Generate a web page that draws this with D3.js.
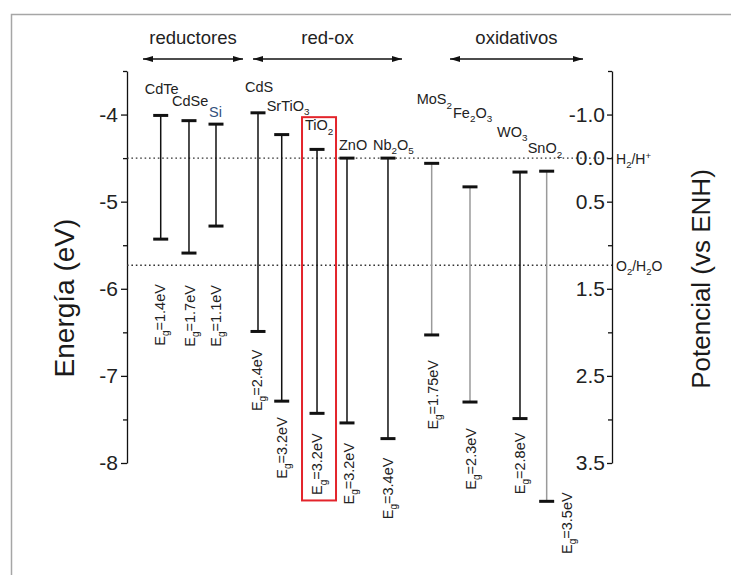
<!DOCTYPE html>
<html><head><meta charset="utf-8">
<script src="https://cdn.jsdelivr.net/npm/d3@7"></script>
<style>body{margin:0;background:#fff} text{font-family:"Liberation Sans",Arial,sans-serif}</style>
</head><body><svg id="c" width="731" height="575"></svg>
<script>
// ---------- data ----------
const materials = ["CdTe","CdSe","Si","CdS","SrTiO3","TiO2","ZnO","Nb2O5","MoS2","Fe2O3","WO3","SnO2"];
const conductionBand = [-4.01,-4.07,-4.11,-3.98,-4.23,-4.40,-4.50,-4.50,-4.56,-4.83,-4.66,-4.65];
const valenceBand    = [-5.43,-5.59,-5.28,-6.49,-7.29,-7.43,-7.54,-7.72,-6.53,-7.30,-7.49,-8.44];
const bandGapLabels  = ["1.4","1.7","1.1","2.4","3.2","3.2","3.2","3.4","1.75","2.3","2.8","3.5"];
const groups = ["reductores","red-ox","oxidativos"];
const leftTicks = [-4,-5,-6,-7,-8];
const leftTickLabels = ["-4","-5","-6","-7","-8"];
const leftMinorTicks = [-3.5,-4.5,-5.5,-6.5,-7.5];
const rightTickValues = [-4,-4.5,-5,-6,-7,-8];
const rightTickLabels = ["-1.0","0.0","0.5","1.5","2.5","3.5"];
const rightMinorTicks = [-3.5,-5.5,-6.5,-7.5];
const redoxLevels = [-4.5,-5.73];
const redoxLabels = ["H2/H+","O2/H2O"];
const highlighted = "TiO2";

// ---------- layout (positions / styles) ----------
const barSlot = [6.95,12.78,18.35,27.01,31.9,39.18,45.36,53.81,62.82,70.72,81.03,86.53];
const grayStem = [false,false,false,false,false,false,false,false,true,true,false,true];
const nameDx = [-16,-17,-7,-13,-15,-12,-8,-15,-15,-17,-23,-19];
const nameDy = [-21,-15,-7,-21,-24,-19,-8,-8,-59,-69,-35,-18];
const egGap = [45,32,59,18,16,20,20,19,25,26,14,-9];
const egDx  = [-1,1,0,-1,0,0,2,0,1,1,0,20];
const groupStart = [3.3,25.98,66.6];
const groupEnd   = [23.92,56.7,94.02];
const boxTop = -4.03, boxBottom = -8.43, boxLeft = -15, boxWidth = 34;

const svg = d3.select("#c");
const x = d3.scaleLinear().domain([0,100]).range([127,612]);
const y = d3.scaleLinear().domain([-3.5,-8]).range([71,463]);

// frame
svg.append("rect").attr("x",11.5).attr("y",14.5).attr("width",800).attr("height",700)
  .attr("fill","none").attr("stroke","#a6a6a6").attr("stroke-width",1.5);

// helper: chemical formula with subscripts
function formula(sel, str, fs){
  const parts = str.match(/(\d+|\+|[^\d+]+)/g);
  let shift = 0;
  parts.forEach(p=>{
    const t = sel.append("tspan").text(p);
    let target = 0, size = fs;
    if(/\d/.test(p)){ target = fs*0.3; size = fs*0.68; }
    else if(p==="+"){ target = -fs*0.4; size = fs*0.68; }
    t.attr("dy", target-shift).attr("font-size", size);
    shift = target;
  });
}

// axes
const axL = svg.append("g").attr("transform","translate(127,0)")
  .call(d3.axisLeft(y).tickValues(leftTicks).tickFormat((d,i)=>leftTickLabels[i]).tickSize(6).tickSizeOuter(0).tickPadding(3));
const axLm = svg.append("g").attr("transform","translate(127,0)")
  .call(d3.axisLeft(y).tickValues(leftMinorTicks).tickFormat("").tickSize(4).tickSizeOuter(0));
const axR = svg.append("g").attr("transform","translate(612,0)")
  .call(d3.axisLeft(y).tickValues(rightTickValues).tickFormat((d,i)=>rightTickLabels[i]).tickSize(5).tickSizeOuter(0).tickPadding(2));
const axRm = svg.append("g").attr("transform","translate(612,0)")
  .call(d3.axisLeft(y).tickValues(rightMinorTicks).tickFormat("").tickSize(4).tickSizeOuter(0));
[axL,axLm,axR,axRm].forEach(a=>{
  a.selectAll("path,line").attr("stroke","#111").attr("stroke-width",1.3);
  a.selectAll("text").attr("font-size",21).attr("fill","#222").attr("font-family","Liberation Sans, Arial, sans-serif");
});
axLm.select(".domain").remove(); axRm.select(".domain").remove();

// axis titles
svg.append("text").attr("transform","translate(74,298) rotate(-90)").attr("text-anchor","middle")
  .attr("font-size",28).attr("fill","#1a1a1a").text("Energía (eV)");
svg.append("text").attr("transform","translate(710,279) rotate(-90)").attr("text-anchor","middle")
  .attr("font-size",26).attr("fill","#1a1a1a").text("Potencial (vs ENH)");

// redox dotted lines
redoxLevels.forEach((v,i)=>{
  svg.append("line").attr("x1",x(0)).attr("x2",x(100)).attr("y1",y(v)).attr("y2",y(v))
    .attr("stroke","#333").attr("stroke-width",1.4).attr("stroke-dasharray","1.6,2.8");
  const t = svg.append("text").attr("x",x(100)+4).attr("y",y(v)+6).attr("font-size",14).attr("fill","#222");
  formula(t, redoxLabels[i], 14);
});

// group arrows
const defs = svg.append("defs");
defs.append("marker").attr("id","ah").attr("viewBox","0 0 10 6").attr("refX",10).attr("refY",3)
  .attr("markerWidth",10).attr("markerHeight",6).attr("markerUnits","userSpaceOnUse").attr("orient","auto-start-reverse")
  .append("path").attr("d","M0,0L10,3L0,6Z").attr("fill","#111");
groups.forEach((g,i)=>{
  svg.append("line").attr("x1",x(groupStart[i])).attr("x2",x(groupEnd[i])).attr("y1",59).attr("y2",59)
    .attr("stroke","#111").attr("stroke-width",1.5).attr("marker-start","url(#ah)").attr("marker-end","url(#ah)");
  svg.append("text").attr("x",(x(groupStart[i])+x(groupEnd[i]))/2).attr("y",44).attr("text-anchor","middle")
    .attr("font-size",18.5).attr("fill","#222").text(g);
});

// bars
const capW = 15;
materials.forEach((m,i)=>{
  const cx = x(barSlot[i]);
  const g = svg.append("g");
  g.append("line").attr("x1",cx).attr("x2",cx).attr("y1",y(conductionBand[i])).attr("y2",y(valenceBand[i]))
    .attr("stroke", grayStem[i] ? "#9a9a9a" : "#111").attr("stroke-width",1.5);
  [conductionBand[i], valenceBand[i]].forEach(v=>{
    g.append("line").attr("x1",cx-capW/2).attr("x2",cx+capW/2).attr("y1",y(v)).attr("y2",y(v))
      .attr("stroke","#111").attr("stroke-width",3);
  });
  const t = g.append("text").attr("x",cx+nameDx[i]).attr("y",y(conductionBand[i])+nameDy[i])
    .attr("font-size",14.5).attr("fill", m==="Si" ? "#34507c" : "#222");
  formula(t, m, 14.5);
  // band gap label
  const ly = y(valenceBand[i]) + egGap[i];
  const e = g.append("text").attr("transform",`translate(${cx+egDx[i]+5},${ly}) rotate(-90)`)
    .attr("text-anchor","end").attr("font-size",14.5).attr("fill","#222");
  e.append("tspan").text("E");
  e.append("tspan").attr("font-size",10).attr("dy",4.5).text("g");
  e.append("tspan").attr("dy",-4.5).text("=" + bandGapLabels[i] + "eV");
});

// highlight box
const hi = materials.indexOf(highlighted);
svg.append("rect").attr("x",x(barSlot[hi])+boxLeft).attr("y",y(boxTop)).attr("width",boxWidth)
  .attr("height",y(boxBottom)-y(boxTop)).attr("fill","none").attr("stroke","#e3242b").attr("stroke-width",2);
</script></body></html>
